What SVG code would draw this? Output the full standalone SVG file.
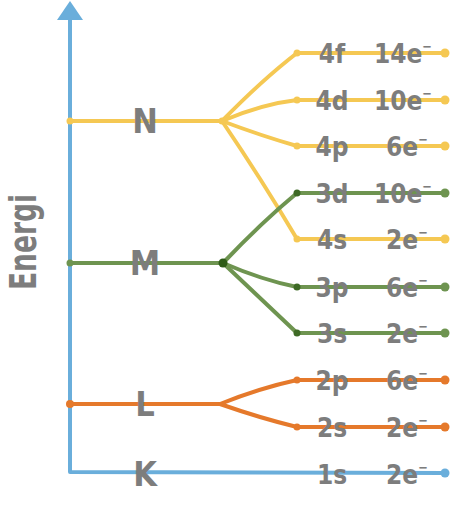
<svg xmlns="http://www.w3.org/2000/svg" width="453" height="507" viewBox="0 0 453 507">
<defs>
<style>
.ln{fill:none;stroke-width:4;stroke-linecap:round;stroke-linejoin:round}
.y{stroke:#f5c853}.g{stroke:#6e9450}.o{stroke:#e5792b}.b{stroke:#6aaedb}
.dy{fill:#f5c853}.dg{fill:#6e9450}.do{fill:#e5792b}.db{fill:#6aaedb}
text{font-family:"DejaVu Sans Condensed","DejaVu Sans",sans-serif;font-weight:bold;fill:#7d7d7d}
.lv{font-size:34px;text-anchor:middle}
.orb{font-size:26px;text-anchor:middle}
.sup{font-size:13px}
</style>
</defs>
<g id="connectors">
<path class="ln b" d="M70 20 L70 472 L445 473" stroke-width="5"/>
<polygon points="70,1 83,20 57,20" fill="#6aaedb"/>
<circle class="db" cx="445" cy="473" r="4.5"/>
<path class="ln y" d="M70 121 L222 121"/>
<path class="ln y" d="M222 121 Q262 80 297 53 L445 53"/>
<path class="ln y" d="M222 121 Q262 104 297 100 L445 100"/>
<path class="ln y" d="M222 121 Q262 136 297 146 L445 146"/>
<path class="ln y" d="M222 121 Q262 180 297 239 L445 239"/>
<circle class="dy" cx="70" cy="121" r="3.5"/>
<circle class="dy" cx="222" cy="121" r="3.5"/>
<circle class="dy" cx="297" cy="53" r="3.5"/><circle class="dy" cx="445" cy="53" r="4.5"/>
<circle class="dy" cx="297" cy="100" r="3.5"/><circle class="dy" cx="445" cy="100" r="4.5"/>
<circle class="dy" cx="297" cy="146" r="3.5"/><circle class="dy" cx="445" cy="146" r="4.5"/>
<circle class="dy" cx="297" cy="239" r="3.5"/><circle class="dy" cx="445" cy="239" r="4.5"/>
<path class="ln g" d="M70 263 L223 263"/>
<path class="ln g" d="M223 263 Q262 222 297 193 L445 193"/>
<path class="ln g" d="M223 263 Q262 280 297 287 L445 287"/>
<path class="ln g" d="M223 263 Q262 300 297 333 L445 333"/>
<circle class="dg" cx="70" cy="263" r="3.5"/>
<circle cx="223" cy="263" r="4.5" fill="#2e5b17"/>
<circle cx="297" cy="193" r="3.5" fill="#3e6a25"/><circle class="dg" cx="445" cy="193" r="4.5"/>
<circle cx="297" cy="287" r="3.5" fill="#3e6a25"/><circle class="dg" cx="445" cy="287" r="4.5"/>
<circle cx="297" cy="333" r="3.5" fill="#3e6a25"/><circle class="dg" cx="445" cy="333" r="4.5"/>
<path class="ln o" d="M70 404 L220 404"/>
<path class="ln o" d="M220 404 Q260 388 297 380 L445 380"/>
<path class="ln o" d="M220 404 Q260 418 297 427 L445 427"/>
<circle class="do" cx="70" cy="404" r="4"/>
<circle class="do" cx="297" cy="380" r="3.5"/><circle class="do" cx="445" cy="380" r="4.5"/>
<circle class="do" cx="297" cy="427" r="3.5"/><circle class="do" cx="445" cy="427" r="4.5"/>
</g>
<g id="axis-label"><text transform="translate(36,242) rotate(-90)" font-size="38" text-anchor="middle" textLength="96" lengthAdjust="spacingAndGlyphs">Energi</text></g>
<g id="N"><text class="lv" x="145" y="133">N</text>
<text class="orb" x="332" y="63">4f</text><text class="orb" x="403" y="63">14e<tspan class="sup" dy="-12">−</tspan></text>
<text class="orb" x="332" y="110">4d</text><text class="orb" x="403" y="110">10e<tspan class="sup" dy="-12">−</tspan></text>
<text class="orb" x="332" y="156">4p</text><text class="orb" x="407" y="156">6e<tspan class="sup" dy="-12">−</tspan></text>
<text class="orb" x="332" y="249">4s</text><text class="orb" x="407" y="249">2e<tspan class="sup" dy="-12">−</tspan></text>
</g>
<g id="M"><text class="lv" x="145" y="275">M</text>
<text class="orb" x="332" y="203">3d</text><text class="orb" x="403" y="203">10e<tspan class="sup" dy="-12">−</tspan></text>
<text class="orb" x="332" y="297">3p</text><text class="orb" x="407" y="297">6e<tspan class="sup" dy="-12">−</tspan></text>
<text class="orb" x="332" y="343">3s</text><text class="orb" x="407" y="343">2e<tspan class="sup" dy="-12">−</tspan></text>
</g>
<g id="L"><text class="lv" x="145" y="416">L</text>
<text class="orb" x="332" y="390">2p</text><text class="orb" x="407" y="390">6e<tspan class="sup" dy="-12">−</tspan></text>
<text class="orb" x="332" y="437">2s</text><text class="orb" x="407" y="437">2e<tspan class="sup" dy="-12">−</tspan></text>
</g>
<g id="K"><text class="lv" x="145" y="486">K</text>
<text class="orb" x="332" y="484">1s</text><text class="orb" x="407" y="484">2e<tspan class="sup" dy="-12">−</tspan></text>
</g>
</svg>
